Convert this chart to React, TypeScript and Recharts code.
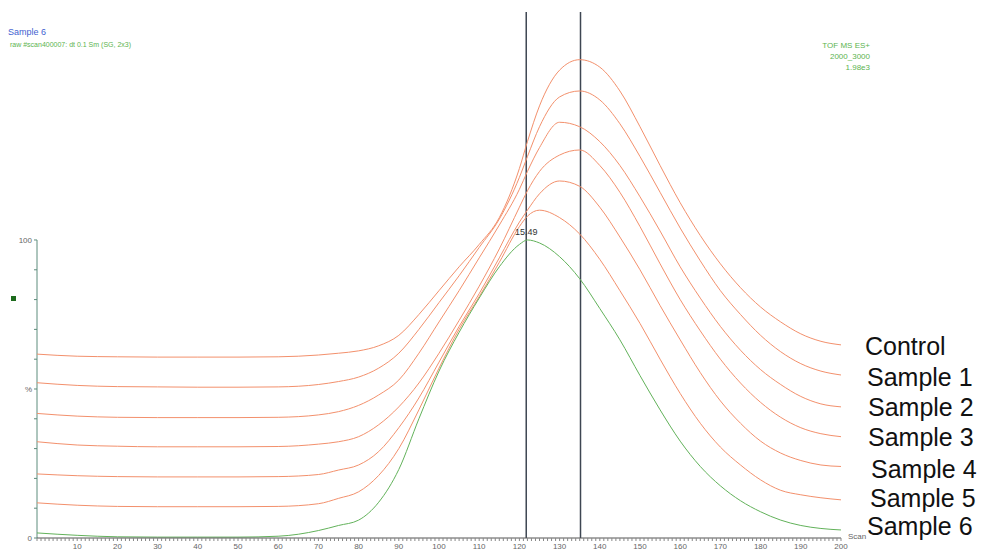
import React from "react";
import { LineChart, Line, XAxis, YAxis, ReferenceLine, ReferenceDot } from "recharts";

const scans = [0, 10, 20, 30, 40, 50, 60, 70, 75, 80, 85, 90, 95, 100, 105, 110, 115, 120, 122, 125, 130, 135, 140, 145, 150, 155, 160, 165, 170, 175, 180, 185, 190, 195, 200];

const control = [61.7, 61.0, 60.8, 60.7, 60.7, 60.7, 60.8, 61.4, 62.0, 62.8, 64.5, 68, 75, 83, 91, 98.5, 107.5, 124, 133, 145, 157, 160.5, 158, 150, 138, 125, 112.5, 101.5, 92, 84, 77.5, 72.5, 68.5, 66, 64.8];
const sample1 = [52.1, 51.2, 50.8, 50.7, 50.6, 50.6, 50.7, 51.5, 52.5, 54.0, 57, 62, 70, 79, 88, 97.5, 107, 121, 128, 138, 148, 150, 147, 139, 128, 116, 104, 93, 83, 75, 68, 62.5, 58.5, 56, 54.7];
const sample2 = [41.8, 40.9, 40.5, 40.4, 40.4, 40.4, 40.5, 41.3, 42.4, 44.5, 48, 53, 62, 72.5, 83, 94, 105, 117, 123, 131, 139.5, 138, 133, 125, 114.5, 103, 91, 80.5, 71, 63, 56.5, 51.5, 47.5, 45, 44];
const sample3 = [32.3, 31.2, 30.8, 30.6, 30.6, 30.6, 30.7, 31.5, 32.3, 34, 38, 44, 52, 62, 73, 84.5, 97, 111, 116.5, 123, 128.5, 130.2, 125, 116, 104.5, 92, 80, 69.5, 60, 52, 45.5, 40.5, 37, 35, 34];
const sample4 = [21.5, 20.9, 20.6, 20.5, 20.5, 20.5, 20.6, 21.3, 22.8, 24.5, 29, 37, 47, 59, 71, 82, 94, 106, 110, 115.5, 119.8, 118, 111, 101, 90, 78, 66.5, 55.5, 46, 38.5, 32.5, 28.5, 26, 24.5, 24];
const sample5 = [11.8, 11.0, 10.6, 10.5, 10.5, 10.5, 10.6, 11.5, 13.3, 15.5, 21, 30, 43, 57, 70, 81, 92.5, 104.5, 108, 110, 107.5, 102, 93.5, 83, 72, 60, 48.5, 38.5, 30.5, 24.5, 19.5, 16, 14.5, 13.5, 12.8];
const sample6 = [1.7, 0.9, 0.4, 0.3, 0.3, 0.3, 0.6, 2.5, 4.2, 6, 12, 23, 40, 56, 69, 80.5, 91, 98.5, 100, 99, 94.4, 87, 77, 66.5, 54.5, 43, 32.5, 24, 17.5, 12.5, 8.8, 6, 4.2, 3.2, 2.7];

const seriesNames = ["Control", "Sample 1", "Sample 2", "Sample 3", "Sample 4", "Sample 5", "Sample 6"];
const xLabelTicks = [10, 20, 30, 40, 50, 60, 70, 80, 90, 100, 110, 120, 130, 140, 150, 160, 170, 180, 190, 200];
const xMinorTicks = Array.from({ length: 201 }, (_, i) => i);
const yTicks = [0, 10, 20, 30, 40, 50, 60, 70, 80, 90, 100];
const yTickLabels: Record<number, string> = { 0: "0", 50: "%", 100: "100" };
const cursorScans = [121.7, 135.2];

const data = scans.map((scan, i) => ({
  scan,
  control: control[i],
  s1: sample1[i],
  s2: sample2[i],
  s3: sample3[i],
  s4: sample4[i],
  s5: sample5[i],
  s6: sample6[i],
}));

const orange = "#f3906c";
const green = "#62b25a";
const font = "'Liberation Sans', Arial, sans-serif";

// right-hand labels: left edge and baseline
const labelSpots = [
  [865, 355],
  [867, 386],
  [868, 416],
  [868, 446],
  [871, 478],
  [870, 507],
  [867, 535],
];

export default function App() {
  return (
    <div style={{ position: "absolute", left: 0, top: 0, width: 983, height: 552, background: "#fff", fontFamily: font }}>
      <LineChart width={983} height={552} data={data} margin={{ top: 12, right: 142, bottom: 0, left: 7 }}>
        <XAxis
          dataKey="scan"
          type="number"
          domain={[0, 200]}
          ticks={xMinorTicks}
          interval={0}
          tickFormatter={(v: number) => (xLabelTicks.includes(v) ? String(v) : "")}
          tickSize={3}
          height={14}
          axisLine={{ stroke: "#555" }}
          tickLine={{ stroke: "#888" }}
          tick={{ fontSize: 8, fill: "#666", fontFamily: font }}
        />
        <YAxis
          type="number"
          domain={[0, 176.5]}
          ticks={yTicks}
          interval={0}
          width={30}
          allowDataOverflow
          axisLine={false}
          tickSize={3}
          tickLine={{ stroke: "#5d8c7c" }}
          tickFormatter={(v: number) => yTickLabels[v] ?? ""}
          tick={{ fontSize: 8, fill: "#666", fontFamily: font }}
        />
        <ReferenceLine segment={[{ x: 0, y: 0 }, { x: 0, y: 100 }]} stroke="#5d8c7c" strokeWidth={1} />
        {cursorScans.map((s) => (
          <ReferenceLine key={s} x={s} stroke="#3e4652" strokeWidth={1.5} />
        ))}
        <Line dataKey="control" type="monotone" stroke={orange} strokeWidth={1} dot={false} isAnimationActive={false} />
        <Line dataKey="s1" type="monotone" stroke={orange} strokeWidth={1} dot={false} isAnimationActive={false} />
        <Line dataKey="s2" type="monotone" stroke={orange} strokeWidth={1} dot={false} isAnimationActive={false} />
        <Line dataKey="s3" type="monotone" stroke={orange} strokeWidth={1} dot={false} isAnimationActive={false} />
        <Line dataKey="s4" type="monotone" stroke={orange} strokeWidth={1} dot={false} isAnimationActive={false} />
        <Line dataKey="s5" type="monotone" stroke={orange} strokeWidth={1} dot={false} isAnimationActive={false} />
        <Line dataKey="s6" type="monotone" stroke={green} strokeWidth={1} dot={false} isAnimationActive={false} />
        <ReferenceDot
          x={cursorScans[0]}
          y={100}
          r={0}
          fill="none"
          stroke="none"
          label={{ value: "15.49", position: "top", fontSize: 9, fill: "#333", fontFamily: font }}
        />
      </LineChart>

      <div style={{ position: "absolute", left: 8, top: 28, fontSize: 9, color: "#3f5fd0", lineHeight: 1 }}>Sample 6</div>
      <div style={{ position: "absolute", left: 10, top: 41, fontSize: 7, color: "#5cb44f", lineHeight: 1, whiteSpace: "nowrap" }}>
        raw #scan400007: dt 0.1 Sm (SG, 2x3)
      </div>
      <div style={{ position: "absolute", right: 113, top: 41, fontSize: 8, color: "#5cb44f", lineHeight: 1.35, textAlign: "right" }}>
        <div>TOF MS ES+</div>
        <div>2000_3000</div>
        <div>1.98e3</div>
      </div>
      <div style={{ position: "absolute", left: 11, top: 296, width: 5, height: 5, background: "#1d6b1d" }} />
      <div style={{ position: "absolute", left: 848, top: 533, fontSize: 8, color: "#666", lineHeight: 1 }}>Scan</div>
      {seriesNames.map((name, i) => (
        <div
          key={name}
          style={{
            position: "absolute",
            left: labelSpots[i][0],
            top: labelSpots[i][1] - 21,
            fontSize: 25,
            lineHeight: 1,
            color: "#111",
            whiteSpace: "nowrap",
          }}
        >
          {name}
        </div>
      ))}
    </div>
  );
}
